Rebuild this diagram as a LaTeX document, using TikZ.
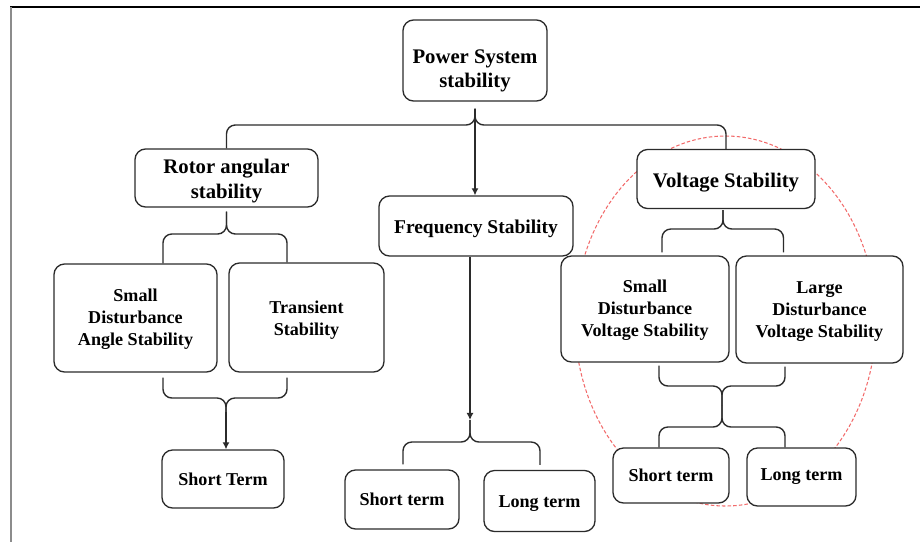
\documentclass[tikz,border=0pt]{standalone}
\usepackage{fontspec}
\setmainfont{Liberation Serif}
\usepackage{tikz}
\usetikzlibrary{arrows.meta,calc}
\definecolor{ink}{HTML}{2B2B2B}
\definecolor{ring}{HTML}{F26B6B}
\definecolor{edge}{HTML}{8C8C8C}
\newcommand\bignodefont{\bfseries\fontsize{11.8}{14}\selectfont}
\newcommand\smallnodefont{\bfseries\fontsize{10.3}{12.5}\selectfont}
% strut on the first line, pushes the text down in its box
\newcommand\sink[1]{\rule{0pt}{#1}}
% curly clasp: tip, height of the bar, left end, right end
\newcommand\clasp[4]{%
  \draw[curl] (#3) |- (#1 |- 0,#2) -- (#1);
  \draw[curl] (#4) |- (#1 |- 0,#2) -- (#1);}

\begin{document}
\begin{tikzpicture}[x=0.02cm, y=-0.02cm, >={Latex[length=4pt,width=4pt]},
    box/.style={draw=ink, line width=0.75pt, rounded corners=6pt, fill=white,
      align=center, inner sep=0pt},
    wh/.style 2 args={minimum width=#1*0.02cm, minimum height=#2*0.02cm},
    big/.style={box, font=\bignodefont},
    small/.style={box, font=\smallnodefont},
    curl/.style={draw=ink, line width=0.8pt, rounded corners=5pt}]
  \useasboundingbox (0,0) rectangle (920,542);
  % frame
  \draw[line width=0.8pt] (10,7) -- (920,7);
  \draw[edge, line width=1.2pt] (11,7) -- (11,542);
  % ring round the voltage branch
  \draw[ring, dash pattern=on 2pt off 1.2pt, line width=0.6pt]
    (725.5,321) ellipse [x radius=150.5, y radius=185];

  \node[big, wh={144}{81}] (ps) at (475,60.5) {\sink{19.5pt}Power System\\stability};
  \node[big, wh={183}{58}] (rot) at (226.5,178) {\sink{11.5pt}Rotor angular\\stability};
  \node[box, font=\bfseries\fontsize{11.1}{13}\selectfont, wh={194}{60}] (freq) at (476,226) {\sink{11pt}Frequency Stability};
  \node[big, wh={178}{59}] (volt) at (726,179) {\sink{12.7pt}Voltage Stability};
  \node[small, wh={163}{108}] (sda) at (135.5,318) {\sink{9pt}Small\\Disturbance\\Angle Stability};
  \node[small, wh={155}{109}] (tra) at (306.5,317.5) {\sink{10.4pt}Transient\\Stability};
  \node[small, wh={122}{58}] (stl) at (223,479) {Short Term};
  \node[small, wh={114}{59}] (stm) at (402,499.5) {Short term};
  \node[small, wh={111}{61}] (ltm) at (539.5,501) {\sink{10.2pt}Long term};
  \node[small, wh={168}{106}] (sdv) at (645,309) {\sink{9pt}Small\\Disturbance\\Voltage Stability};
  \node[small, wh={167}{107}] (ldv) at (819.5,309.5) {\sink{9pt}Large\\Disturbance\\Voltage Stability};
  \node[small, wh={116}{55}] (str) at (671,475.5) {Short term};
  \node[small, wh={109}{58}] (ltr) at (801.5,477) {Long term};

  \coordinate (ps-tip) at ($(ps.south)+(0,7)$);
  \coordinate (rot-tip) at ($(rot.south)+(0,4)$);
  \coordinate (ang-tip) at (226,412);
  \coordinate (freq-tip) at (470,420);
  \coordinate (volt-tip) at ($(volt.south)+(-3,1)$);
  \coordinate (volt-knot) at (722,405);

  % top level
  \clasp{ps-tip}{125}{rot.north}{volt.north}
  \draw[->, draw=ink, line width=0.75pt] (ps-tip) -- (ps-tip |- freq.north);
  % rotor angle branch
  \clasp{rot-tip}{234}{$(sda.north)+(27.5,0)$}{$(tra.north)+(-19.5,0)$}
  \clasp{ang-tip}{398}{$(sda.south)+(27.5,5)$}{$(tra.south)+(-19.5,5)$}
  \draw[->, draw=ink, line width=0.75pt] (ang-tip) -- (ang-tip |- stl.north);
  % frequency branch
  \draw[->, draw=ink, line width=0.75pt] (freq.south -| freq-tip) -- (freq-tip);
  \clasp{freq-tip}{442}{$(stm.north)+(1,-5)$}{$(ltm.north)+(0.5,-5)$}
  % voltage branch
  \clasp{volt-tip}{229}{$(sdv.north)+(17,-3)$}{$(ldv.north)+(-36,-3)$}
  \clasp{volt-knot}{386}{$(sdv.south)+(14,3)$}{$(ldv.south)+(-34.5,3)$}
  \clasp{volt-knot}{427}{$(str.north)+(-12,0)$}{$(ltr.north)+(-16.5,0)$}
\end{tikzpicture}
\end{document}
